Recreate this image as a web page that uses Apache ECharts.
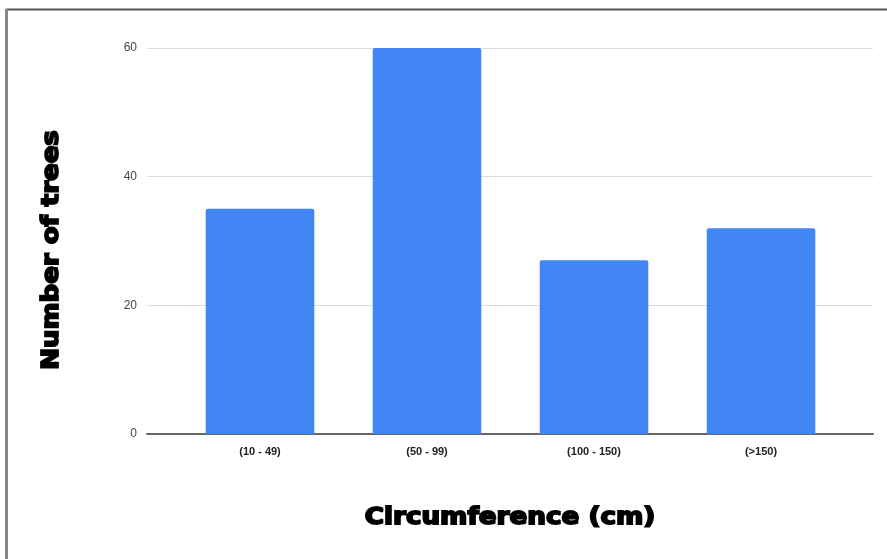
<!DOCTYPE html>
<html>
<head>
<meta charset="utf-8">
<script src="https://cdn.jsdelivr.net/npm/echarts@6/dist/echarts.min.js"></script>
<style>
  html, body { margin: 0; padding: 0; background: #fff; }
  #chart { width: 887px; height: 559px; }
</style>
</head>
<body>
<div id="chart"></div>
<script>
// Tree counts by trunk circumference class
const categories = ['(10 - 49)', '(50 - 99)', '(100 - 150)', '(>150)'];
const treeCounts = [35, 60, 27, 32];
const yTicks = [0, 20, 40, 60];

const xTitle = 'Circumference (cm)';
const yTitle = 'Number of trees';

const chart = echarts.init(document.getElementById('chart'), null, { renderer: 'canvas' });

const yMin = yTicks[0];
const yMax = yTicks[yTicks.length - 1];
const yStep = yTicks[1] - yTicks[0];

const heavyFont = '"DejaVu Sans", "Liberation Sans", sans-serif';

chart.setOption({
  backgroundColor: '#ffffff',
  animation: false,
  grid: [
    // frame grid: value labels, gridlines and baseline
    { left: 147, right: 14, top: 48, bottom: 125, containLabel: false },
    // bar grid: narrower band for the category columns
    { left: 176.5, right: 42.5, top: 48, bottom: 125, containLabel: false }
  ],
  xAxis: [
    {
      gridIndex: 0, type: 'value', min: 0, max: 1,
      axisLine: { show: true, onZero: false, lineStyle: { color: '#666', width: 2 } },
      axisTick: { show: false }, axisLabel: { show: false }, splitLine: { show: false }
    },
    {
      gridIndex: 1, type: 'category', data: categories,
      axisLine: { show: false }, axisTick: { show: false },
      axisLabel: {
        margin: 12, fontSize: 11, fontWeight: 'bold', color: '#222',
        fontFamily: '"Liberation Sans", Arial, sans-serif'
      }
    }
  ],
  yAxis: [
    {
      gridIndex: 0, type: 'value', min: yMin, max: yMax, interval: yStep,
      axisLine: { show: false }, axisTick: { show: false },
      axisLabel: { margin: 10, fontSize: 12, color: '#444', fontFamily: '"Liberation Sans", Arial, sans-serif' },
      splitLine: { show: true, lineStyle: { color: '#dcdcdc', width: 1 } }
    },
    {
      gridIndex: 1, type: 'value', min: yMin, max: yMax, interval: yStep,
      show: false
    }
  ],
  series: [
    {
      type: 'bar', xAxisIndex: 1, yAxisIndex: 1,
      data: treeCounts,
      barCategoryGap: '35%',
      itemStyle: { color: '#4285f4', borderRadius: [2, 2, 0, 0] }
    }
  ],
  graphic: [
    // outer frame: top and left edges
    { type: 'line', shape: { x1: 6, y1: 9.5, x2: 887, y2: 9.5 }, style: { stroke: '#555', lineWidth: 2 } },
    { type: 'line', shape: { x1: 6.5, y1: 9, x2: 6.5, y2: 559 }, style: { stroke: '#888', lineWidth: 3 } },
    {
      type: 'text', x: 510, y: 518, scaleX: 1.14,
      style: {
        text: xTitle, fill: '#000', font: 'bold 23px ' + heavyFont,
        align: 'center', verticalAlign: 'middle', stroke: '#000', lineWidth: 1.8
      }
    },
    {
      type: 'text', x: 52, y: 250, rotation: Math.PI / 2, scaleX: 1.13,
      style: {
        text: yTitle, fill: '#000', font: 'bold 23px ' + heavyFont,
        align: 'center', verticalAlign: 'middle', stroke: '#000', lineWidth: 1.8
      }
    }
  ]
});
</script>
</body>
</html>
